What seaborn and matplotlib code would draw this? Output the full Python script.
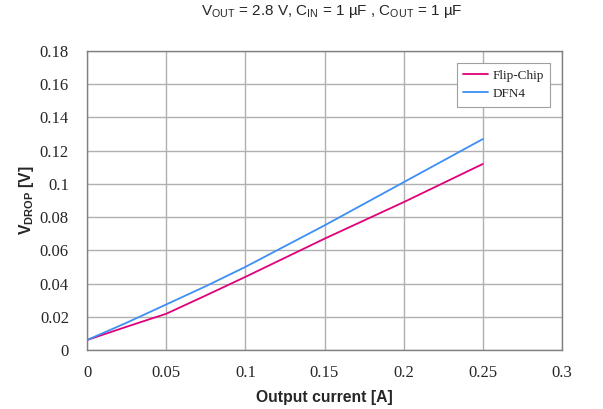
import matplotlib
matplotlib.use("Agg")
import matplotlib.pyplot as plt
import seaborn as sns
import pandas as pd

current = [0.0, 0.025, 0.05, 0.075, 0.1, 0.15, 0.2, 0.25]
flip_chip = [0.006, 0.014, 0.0218, 0.0328, 0.044, 0.067, 0.089, 0.112]
dfn4 = [0.006, 0.0164, 0.0274, 0.0384, 0.050, 0.075, 0.101, 0.127]
x_ticks = [0, 0.05, 0.1, 0.15, 0.2, 0.25, 0.3]
x_tick_labels = ["0", "0.05", "0.1", "0.15", "0.2", "0.25", "0.3"]
y_ticks = [0, 0.02, 0.04, 0.06, 0.08, 0.1, 0.12, 0.14, 0.16, 0.18]
y_tick_labels = ["0", "0.02", "0.04", "0.06", "0.08", "0.1", "0.12", "0.14", "0.16", "0.18"]

sns.set_style("white")
plt.rcParams["font.family"] = ["Liberation Sans", "DejaVu Sans"]
plt.rcParams["mathtext.fontset"] = "custom"
plt.rcParams["mathtext.rm"] = "Liberation Sans"
plt.rcParams["mathtext.it"] = "Liberation Sans"
plt.rcParams["mathtext.bf"] = "Liberation Sans:bold"

df = pd.DataFrame({
    "current": current * 2,
    "vdrop": flip_chip + dfn4,
    "package": ["Flip-Chip"] * len(current) + ["DFN4"] * len(current),
})

fig = plt.figure(figsize=(6.03, 4.09), dpi=100)
ax = fig.add_axes([87 / 603, 59 / 409, 475 / 603, 299 / 409])

sns.lineplot(data=df, x="current", y="vdrop", hue="package",
             palette={"Flip-Chip": "#E0007A", "DFN4": "#3D8EF5"},
             linewidth=1.3, ax=ax, legend=True)

ax.set_xlim(0, 0.3)
ax.set_ylim(0, 0.18)
ax.set_xticks(x_ticks)
ax.set_xticklabels(x_tick_labels)
ax.set_yticks(y_ticks)
ax.set_yticklabels(y_tick_labels)
for lab in ax.get_xticklabels() + ax.get_yticklabels():
    lab.set_fontfamily("Liberation Serif")
    lab.set_fontsize(12)
ax.tick_params(axis="both", direction="out", length=4, width=1, color="#808080")
ax.tick_params(axis="y", pad=9)
ax.tick_params(axis="x", pad=7)
ax.grid(True, color="#B0B0B0", linewidth=1)
for s in ax.spines.values():
    s.set_color("#808080")
    s.set_linewidth(1)

ax.set_xlabel("Output current [A]", fontsize=11.3, fontweight="bold", labelpad=6)
ax.set_ylabel(r"$\mathbf{V_{DROP}}$ [V]", fontsize=11.3, fontweight="bold", labelpad=3)

fig.text(332 / 603, 1 - 12 / 409,
         r"V$_{\mathrm{OUT}}$ = 2.8 V, C$_{\mathrm{IN}}$ = 1 µF , C$_{\mathrm{OUT}}$ = 1 µF",
         ha="center", va="center", fontsize=11)

leg = ax.legend(loc="upper right", bbox_to_anchor=(0.975, 0.96), borderaxespad=0,
                frameon=True, fancybox=False, edgecolor="#A0A0A0", framealpha=1,
                prop={"family": "Liberation Serif", "size": 9.5},
                handlelength=1.9, handletextpad=0.3, borderpad=0.5, labelspacing=0.45)
leg.get_frame().set_linewidth(0.8)

fig.savefig("out.png", dpi=100)
